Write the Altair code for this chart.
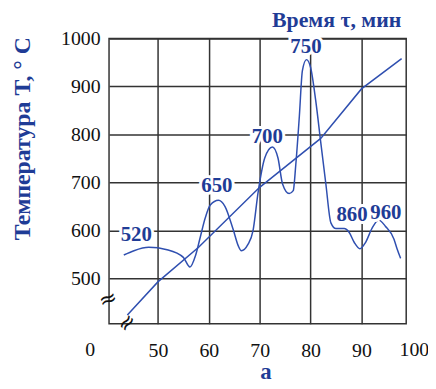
import altair as alt
import pandas as pd

# Curve (temperature vs time-share)
curve_x = [43.3, 45.3, 48.2, 51.8, 55.0, 56.3, 57.4, 58.3, 59.3, 60.3, 61.9, 63.2, 64.8, 65.8, 66.4,
           67.7, 68.7, 69.7, 71.0, 72.5, 73.6, 74.5, 75.8, 76.6, 77.1, 77.8, 78.4, 79.2, 80.0, 81.0,
           82.0, 83.0, 84.0, 85.0, 86.6, 87.6, 88.6, 89.7, 90.8, 92.1, 93.4, 94.7, 96.4, 97.0, 97.7]
curve_y = [549, 558, 565, 560, 544, 524, 548, 585, 626, 653, 663, 650, 602, 568, 558,
           571, 600, 680, 751, 774, 751, 697, 677, 683, 737, 838, 933, 956, 940, 872,
           784, 698, 616, 604, 604, 596, 575, 562, 575, 605, 622, 609, 582, 562, 542]

# Straight (time) line
line_x = [44.0, 50.0, 58.0, 70.0, 82.0, 90.0, 97.9]
line_y = [424, 493, 565, 690, 792, 895, 958]

# Time labels on the curve
lab_text = ["520", "650", "700", "750", "860", "960"]
lab_x = [45.75, 61.6, 71.5, 79.1, 88.15, 94.8]
lab_y = [590, 693, 795, 983, 633, 636]

# Axis ticks
x_ticks = [50, 60, 70, 80, 90]
y_ticks = [500, 600, 700, 800, 900, 1000]
x_extra_text = ["0", "100"]
x_extra_pos = [36.7, 100.4]

BLUE = "#1f3c96"
LINE = "#2f4fb0"
SERIF = "Liberation Serif, serif"

curve_df = pd.DataFrame({"x": curve_x, "y": curve_y})
line_df = pd.DataFrame({"x": line_x, "y": line_y})
lab_df = pd.DataFrame({"t": lab_text, "x": lab_x, "y": lab_y})
extra_df = pd.DataFrame({"t": x_extra_text, "x": x_extra_pos})
brk_df = pd.DataFrame({"t": ["≈"]})

xs = alt.Scale(domain=[40.4, 98.8], nice=False, zero=False)
ys = alt.Scale(domain=[405.7, 1000], nice=False, zero=False)

x_axis = alt.Axis(values=x_ticks, grid=True, gridColor="#333333", gridWidth=1.5,
                  domain=False, ticks=False, labelFont=SERIF, labelFontSize=20,
                  labelColor="#111111", labelPadding=17, labelBaseline="top", format="d",
                  title="a", titleFont=SERIF, titleFontSize=23, titleFontWeight="bold",
                  titleColor=BLUE, titleX=158, titleY=55, titleBaseline="alphabetic")
y_axis = alt.Axis(values=y_ticks, grid=True, gridColor="#333333", gridWidth=1.5,
                  domain=False, ticks=False, labelFont=SERIF, labelFontSize=20,
                  labelColor="#111111", labelPadding=9, format="d",
                  title="Температура T, ° C", titleFont=SERIF, titleFontSize=24,
                  titleFontWeight="bold", titleColor=BLUE, titleAngle=270,
                  titleX=-87, titleY=-2, titleAlign="right", titleBaseline="middle")

base_line = alt.Chart(line_df).mark_line(color=LINE, strokeWidth=1.5).encode(
    x=alt.X("x:Q", scale=xs, axis=x_axis),
    y=alt.Y("y:Q", scale=ys, axis=y_axis),
)

curve = alt.Chart(curve_df).mark_line(color=LINE, strokeWidth=1.5, interpolate="monotone").encode(
    x=alt.X("x:Q", scale=xs), y=alt.Y("y:Q", scale=ys)
)

halo = alt.Chart(lab_df).mark_text(font=SERIF, fontSize=21, fontWeight="bold",
                                   stroke="white", strokeWidth=6, color="white",
                                   baseline="middle").encode(
    x=alt.X("x:Q", scale=xs), y=alt.Y("y:Q", scale=ys), text="t:N"
)
labels = alt.Chart(lab_df).mark_text(font=SERIF, fontSize=21, fontWeight="bold",
                                     color=BLUE, baseline="middle").encode(
    x=alt.X("x:Q", scale=xs), y=alt.Y("y:Q", scale=ys), text="t:N"
)

extra = alt.Chart(extra_df).mark_text(font=SERIF, fontSize=20, color="#111111",
                                      baseline="top").encode(
    x=alt.X("x:Q", scale=xs), y=alt.value(305), text="t:N"
)

brk1 = alt.Chart(brk_df).mark_text(font="DejaVu Sans", fontSize=22, color="#111111",
                                   angle=340, baseline="middle").encode(
    x=alt.value(-1), y=alt.value(263), text="t:N"
)
brk2 = alt.Chart(brk_df).mark_text(font="DejaVu Sans", fontSize=22, color="#111111",
                                   angle=310, baseline="middle").encode(
    x=alt.value(18), y=alt.value(287), text="t:N"
)

chart = alt.layer(base_line, curve, halo, labels, extra, brk1, brk2).properties(
    width=300, height=288,
    title=alt.TitleParams("Время τ, мин", anchor="end", frame="group", font=SERIF,
                          fontSize=22, fontWeight="bold", color=BLUE, dx=-5, offset=-3),
    autosize=alt.AutoSizeParams(type="none"),
    padding={"left": 102, "top": 29, "right": 22, "bottom": 61},
).configure_view(stroke="#333333", strokeWidth=1.5)

chart.save("out.html", embed_options={"renderer": "svg", "actions": False})
